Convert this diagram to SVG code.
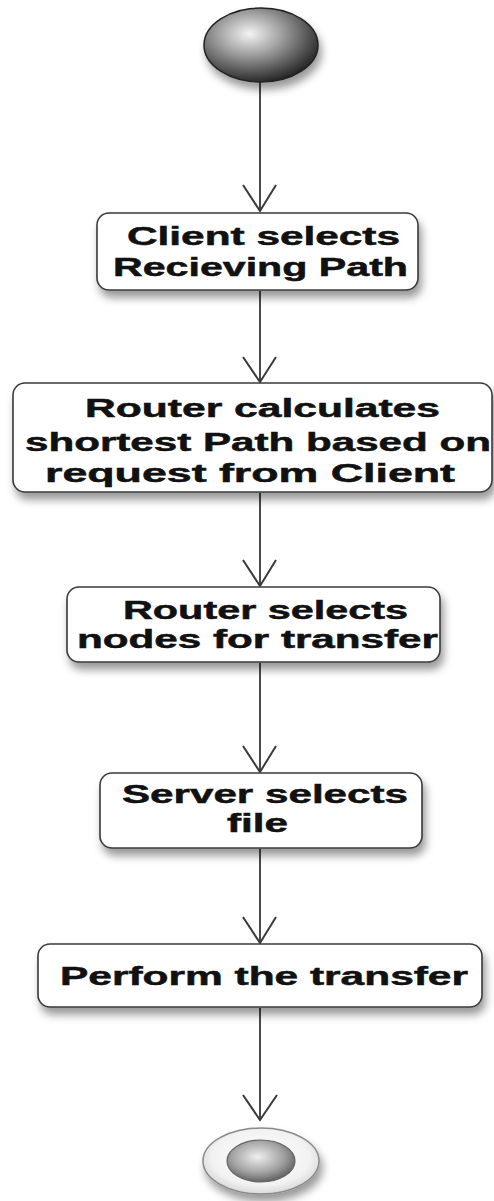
<svg xmlns="http://www.w3.org/2000/svg" width="494" height="1201" viewBox="0 0 494 1201">
<style>
.box{fill:#ffffff;stroke:#3a3a3a;stroke-width:1.6;filter:url(#sh)}
.lbl{font-family:"Liberation Sans",Arial,sans-serif;font-weight:bold;font-size:25.5px;fill:#111;stroke:#111;stroke-width:0.5}
.edge{stroke:#4a4a4a;stroke-width:2;fill:none}
.head{stroke:#3a3a3a;stroke-width:2;fill:none;stroke-linejoin:miter}
</style>
<defs>
<filter id="sh" x="-10%" y="-20%" width="125%" height="160%">
<feDropShadow dx="3" dy="7" stdDeviation="4" flood-color="#000" flood-opacity="0.4"/>
</filter>
<radialGradient id="ball" cx="0.4" cy="0.35" r="0.7">
<stop offset="0" stop-color="#f4f4f4"/>
<stop offset="0.4" stop-color="#a0a0a0"/>
<stop offset="0.85" stop-color="#3c3c3c"/>
<stop offset="1" stop-color="#1c1c1c"/>
</radialGradient>
<radialGradient id="ball2" cx="0.45" cy="0.4" r="0.65">
<stop offset="0" stop-color="#f0f0f0"/>
<stop offset="0.6" stop-color="#a0a0a0"/>
<stop offset="1" stop-color="#555"/>
</radialGradient>
<radialGradient id="ring" cx="0.5" cy="0.45" r="0.6">
<stop offset="0" stop-color="#ffffff"/>
<stop offset="0.7" stop-color="#f2f2f2"/>
<stop offset="1" stop-color="#cfcfcf"/>
</radialGradient>
</defs>

<g id="connectors">
<line class="edge" x1="260" y1="82" x2="260" y2="211"/>
<polyline class="head" points="243,185 260,211 276,185"/>
<line class="edge" x1="260" y1="291" x2="260" y2="381"/>
<polyline class="head" points="243,357 260,382 276,357"/>
<line class="edge" x1="260" y1="493" x2="260" y2="585"/>
<polyline class="head" points="243,560 260,586 276,560"/>
<line class="edge" x1="260" y1="663" x2="260" y2="771"/>
<polyline class="head" points="243,746 260,772 276,746"/>
<line class="edge" x1="260" y1="849" x2="260" y2="942"/>
<polyline class="head" points="243,917 260,943 276,917"/>
<line class="edge" x1="260" y1="1008" x2="260" y2="1119"/>
<polyline class="head" points="243,1095 260,1120 277,1095"/>
</g>

<g id="start">
<ellipse cx="261" cy="45" rx="57" ry="37" fill="url(#ball)" stroke="#222" stroke-width="1.5" filter="url(#sh)"/>
</g>

<g id="n1">
<rect class="box" x="97" y="213" width="321" height="77" rx="12"/>
<text class="lbl" x="127" y="245" textLength="273" lengthAdjust="spacingAndGlyphs">Client selects</text>
<text class="lbl" x="113" y="276" textLength="295" lengthAdjust="spacingAndGlyphs">Recieving Path</text>
</g>

<g id="n2">
<rect class="box" x="13" y="383" width="479" height="109" rx="12"/>
<text class="lbl" x="85" y="417" textLength="355" lengthAdjust="spacingAndGlyphs">Router calculates</text>
<text class="lbl" x="25" y="451" textLength="466" lengthAdjust="spacingAndGlyphs">shortest Path based on</text>
<text class="lbl" x="45" y="482" textLength="410" lengthAdjust="spacingAndGlyphs">request from Client</text>
</g>

<g id="n3">
<rect class="box" x="67" y="587" width="373" height="75" rx="12"/>
<text class="lbl" x="123" y="619" textLength="285" lengthAdjust="spacingAndGlyphs">Router selects</text>
<text class="lbl" x="77" y="648" textLength="361" lengthAdjust="spacingAndGlyphs">nodes for transfer</text>
</g>

<g id="n4">
<rect class="box" x="100" y="773" width="322" height="75" rx="12"/>
<text class="lbl" x="122" y="803" textLength="286" lengthAdjust="spacingAndGlyphs">Server selects</text>
<text class="lbl" x="227" y="832" textLength="61" lengthAdjust="spacingAndGlyphs">file</text>
</g>

<g id="n5">
<rect class="box" x="38" y="944" width="444" height="63" rx="12"/>
<text class="lbl" x="60" y="985" textLength="408" lengthAdjust="spacingAndGlyphs">Perform the transfer</text>
</g>

<g id="end">
<ellipse cx="261" cy="1161" rx="58" ry="33" fill="url(#ring)" stroke="#8a8a8a" stroke-width="1.5" filter="url(#sh)"/>
<ellipse cx="261" cy="1161" rx="34" ry="21" fill="url(#ball2)" stroke="#666" stroke-width="1.2"/>
</g>
</svg>
